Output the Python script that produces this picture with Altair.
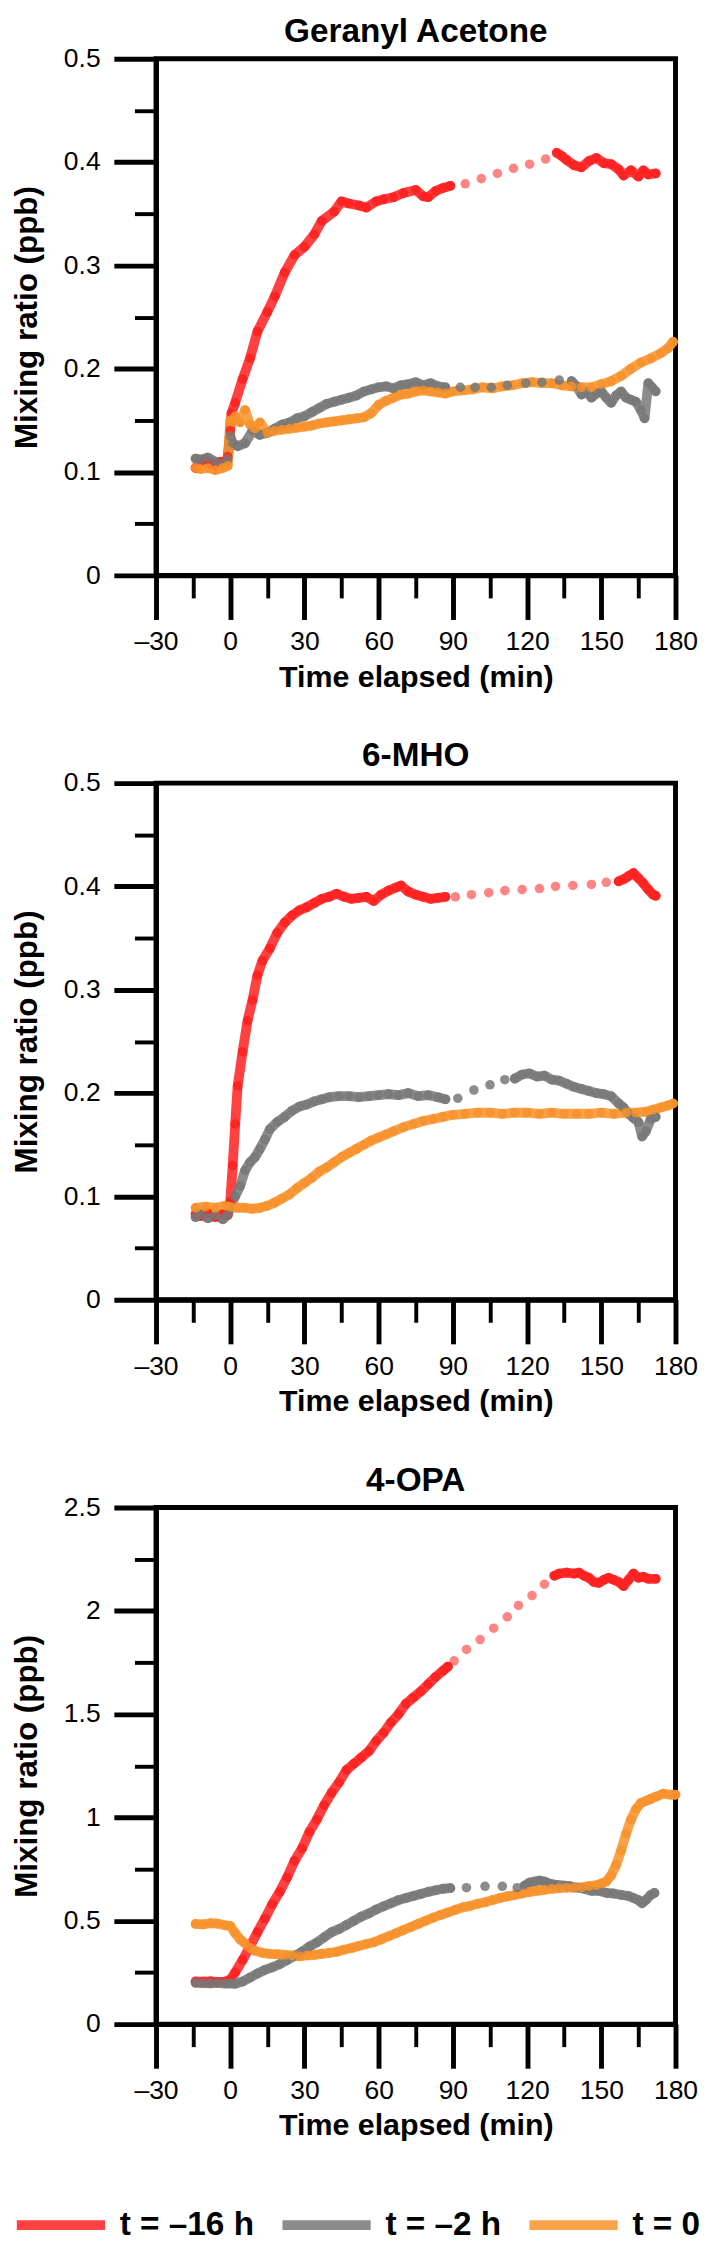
import altair as alt
import pandas as pd

SERIES = ["t = \u201316 h", "t = \u20132 h", "t = 0"]
COLORS = ["#FF2020", "#787878", "#F8922A"]
PANELS = ["Geranyl Acetone", "6-MHO", "4-OPA"]

X_TICKS = [-30, 0, 30, 60, 90, 120, 150, 180]
X_MINOR = [-15, 15, 45, 75, 105, 135, 165]
Y_TICKS_A = [0, 0.1, 0.2, 0.3, 0.4, 0.5]
Y_MINOR_A = [0.05, 0.15, 0.25, 0.35, 0.45]
Y_TICKS_B = [0, 0.5, 1, 1.5, 2, 2.5]
Y_MINOR_B = [0.25, 0.75, 1.25, 1.75, 2.25]

# ---------------- Geranyl Acetone ----------------
GA_RED_T = [-14, -12, -10, -8, -6, -4, -2, -1, 0, 0.5, 2, 5, 8, 11, 15, 18, 22, 26, 30, 34, 37, 42, 45,
            48, 52, 55, 59, 62, 66, 70, 75, 78, 80, 83, 86, 89,
            95, 101.5, 108, 114.5, 121, 127.5,
            132, 134, 136, 139, 142, 145, 148, 151, 154, 157, 159, 162, 165, 167, 169, 172]
GA_RED_V = [0.104, 0.11, 0.112, 0.108, 0.106, 0.11, 0.108, 0.115, 0.14, 0.157, 0.167, 0.19, 0.21, 0.236,
            0.255, 0.27, 0.293, 0.31, 0.318, 0.33, 0.343, 0.352, 0.362,
            0.36, 0.358, 0.356, 0.362, 0.364, 0.366, 0.37, 0.373, 0.367, 0.366, 0.372, 0.375, 0.377,
            0.379, 0.384, 0.389, 0.394, 0.398, 0.403,
            0.409, 0.406, 0.402, 0.397, 0.395, 0.401, 0.404, 0.399, 0.398, 0.393, 0.387, 0.392, 0.386,
            0.392, 0.388, 0.389]
GA_RED_GAP = (92, 130)

GA_GRAY_T = [-14, -12, -9, -6, -3, -1, 0, 1, 3, 6, 9, 12, 15, 18, 21, 24, 27, 30, 33, 36, 39, 42, 45, 48,
             51, 54, 57, 60, 63, 66, 69, 72, 75, 78, 81, 84, 87,
             93, 99, 105.5, 112, 119.5, 126, 133,
             138, 140, 142, 144, 146, 148, 150, 152, 154, 156, 158, 160, 162, 164, 166, 167.5, 169,
             170.5, 172]
GA_GRAY_V = [0.113, 0.112, 0.114, 0.11, 0.108, 0.112, 0.135, 0.128, 0.125, 0.128, 0.14, 0.136, 0.138,
             0.142, 0.146, 0.148, 0.152, 0.154, 0.158, 0.162, 0.166, 0.168, 0.17, 0.172, 0.174, 0.178,
             0.18, 0.182, 0.183, 0.181, 0.184, 0.185, 0.187, 0.184, 0.186, 0.183, 0.182,
             0.182, 0.182, 0.182, 0.184, 0.186, 0.187, 0.189,
             0.188, 0.183, 0.175, 0.178, 0.172, 0.176, 0.178, 0.172, 0.167, 0.174, 0.178, 0.172, 0.17,
             0.168, 0.16, 0.152, 0.186, 0.182, 0.178]
GA_GRAY_GAP = (90, 135)

GA_ORANGE_T = [-14, -12, -9, -6, -3, -1, 0, 2, 4, 6, 8, 10, 12, 15, 18, 21, 24, 27, 30, 33, 36, 39, 42,
               45, 48, 51, 54, 57, 60, 63, 66, 69, 72, 75, 78, 81, 84, 87, 90, 94, 98, 102, 106, 110,
               114, 118, 122, 126, 130, 134, 138, 142, 146, 150, 154, 158, 162, 166, 170, 174, 177, 179]
GA_ORANGE_V = [0.104, 0.103, 0.104, 0.102, 0.104, 0.106, 0.15, 0.154, 0.148, 0.16, 0.146, 0.142, 0.148,
               0.138, 0.14, 0.141, 0.142, 0.143, 0.144, 0.145, 0.147, 0.148, 0.149, 0.15, 0.151, 0.152,
               0.153, 0.157, 0.165, 0.169, 0.172, 0.175, 0.176, 0.178, 0.179, 0.178, 0.177, 0.176,
               0.178, 0.179, 0.18, 0.182, 0.181, 0.183, 0.184, 0.186, 0.187, 0.186, 0.186, 0.184, 0.183,
               0.182, 0.182, 0.185, 0.188, 0.193, 0.2, 0.206, 0.21, 0.215, 0.22, 0.226]
GA_ORANGE_GAP = (999, 999)

# ---------------- 6-MHO ----------------
MHO_RED_T = [-14, -12, -9, -6, -3, -1, 0, 1, 2, 3, 5, 7, 9, 11, 13, 16, 19, 22, 25, 28, 31, 34, 37, 40,
             43, 46, 49, 52, 55, 58, 61, 64, 67, 69, 72, 75, 78, 81, 84, 87,
             91, 97.5, 104.5, 111, 118, 125, 131.5, 138.5, 146, 152,
             157, 159, 161, 163, 165, 167, 169, 171, 172]
MHO_RED_V = [0.083, 0.081, 0.084, 0.08, 0.083, 0.082, 0.095, 0.13, 0.17, 0.207, 0.24, 0.27, 0.29, 0.314,
             0.328, 0.34, 0.355, 0.365, 0.372, 0.377, 0.38, 0.384, 0.388, 0.39, 0.393, 0.39, 0.388,
             0.389, 0.39, 0.386, 0.392, 0.396, 0.399, 0.401, 0.395, 0.392, 0.39, 0.388, 0.389, 0.39,
             0.39, 0.392, 0.394, 0.396, 0.397, 0.398, 0.4, 0.401, 0.402, 0.404,
             0.405, 0.407, 0.41, 0.413, 0.408, 0.403, 0.397, 0.392, 0.391]
MHO_RED_GAP = (89, 154)

MHO_GRAY_T = [-14, -12, -9, -6, -3, -1, 0, 2, 4, 6, 8, 10, 12, 14, 16, 19, 22, 25, 28, 31, 34, 37, 40,
              44, 48, 52, 56, 60, 64, 68, 72, 76, 80, 84, 87,
              92, 98.5, 105, 111,
              115, 118, 121, 124, 127, 130, 133, 136, 139, 142, 145, 148, 151, 154, 157, 159, 161, 163,
              165, 166.5, 168, 170, 172]
MHO_GRAY_V = [0.08, 0.083, 0.079, 0.082, 0.078, 0.082, 0.09, 0.1, 0.11, 0.125, 0.133, 0.138, 0.146,
              0.155, 0.165, 0.172, 0.177, 0.183, 0.187, 0.189, 0.192, 0.194, 0.196, 0.197, 0.197,
              0.196, 0.197, 0.198, 0.199, 0.198, 0.2, 0.197, 0.198, 0.196, 0.194,
              0.195, 0.203, 0.208, 0.213,
              0.214, 0.218, 0.219, 0.216, 0.217, 0.213, 0.212, 0.209, 0.206, 0.204, 0.202, 0.2, 0.199,
              0.197, 0.19, 0.186, 0.18, 0.176, 0.172, 0.158, 0.163, 0.175, 0.177]
MHO_GRAY_GAP = (89, 113)

MHO_ORANGE_T = [-14, -10, -6, -2, 0, 3, 6, 9, 12, 15, 18, 21, 24, 27, 30, 33, 36, 39, 42, 45, 48, 51,
                54, 57, 60, 63, 66, 70, 74, 78, 82, 86, 90, 95, 100, 105, 110, 115, 120, 125, 130, 135,
                140, 145, 150, 155, 160, 164, 168, 171, 174, 177, 179]
MHO_ORANGE_V = [0.089, 0.09, 0.089, 0.091, 0.09, 0.089, 0.089, 0.088, 0.089, 0.091, 0.094, 0.098, 0.102,
                0.108, 0.113, 0.118, 0.124, 0.128, 0.133, 0.138, 0.142, 0.146, 0.15, 0.154, 0.157,
                0.16, 0.163, 0.167, 0.17, 0.173, 0.175, 0.177, 0.179, 0.18, 0.181, 0.181, 0.18, 0.181,
                0.181, 0.18, 0.181, 0.18, 0.18, 0.18, 0.181, 0.18, 0.181, 0.181, 0.182, 0.184, 0.186,
                0.188, 0.19]
MHO_ORANGE_GAP = (999, 999)

# ---------------- 4-OPA ----------------
OPA_RED_T = [-14, -11, -8, -5, -2, 0, 2, 5, 8, 11, 14, 17, 20, 23, 26, 29, 32, 35, 38, 41, 44, 47, 50,
             53, 56, 59, 62, 65, 68, 71, 74, 77, 80, 83, 86, 88,
             90.5, 95.5, 101, 106.5, 112, 116.5, 122, 127,
             131, 133, 136, 139, 141, 143, 145, 147, 149, 151, 153, 155, 157, 159, 161, 163, 165, 167,
             169, 172]
OPA_RED_V = [0.206, 0.205, 0.207, 0.204, 0.206, 0.215, 0.25, 0.31, 0.375, 0.445, 0.51, 0.58, 0.64, 0.71,
             0.79, 0.85, 0.93, 0.99, 1.06, 1.12, 1.17, 1.23, 1.26, 1.29, 1.32, 1.37, 1.41, 1.46, 1.5,
             1.55, 1.58, 1.61, 1.645, 1.68, 1.71, 1.73,
             1.758, 1.813, 1.861, 1.916, 1.971, 2.026, 2.074, 2.129,
             2.17, 2.18, 2.185, 2.18, 2.185, 2.17, 2.16, 2.14, 2.135, 2.15, 2.16, 2.15, 2.14, 2.12,
             2.15, 2.18, 2.16, 2.165, 2.155, 2.155]
OPA_RED_GAP = (89, 129)

OPA_GRAY_T = [-14, -11, -8, -5, -2, 0, 2, 5, 8, 11, 14, 17, 20, 23, 26, 29, 32, 35, 38, 41, 44, 47, 50,
              53, 56, 59, 62, 65, 68, 71, 74, 77, 80, 83, 86, 89,
              95.5, 103, 110, 116,
              119, 121, 123, 125, 127, 129, 131, 133, 135, 137, 139, 141, 143, 146, 149, 152, 155, 158,
              161, 163, 165, 166.5, 168, 170, 171.5]
OPA_GRAY_V = [0.2, 0.198, 0.197, 0.199, 0.196, 0.197, 0.195, 0.206, 0.225, 0.245, 0.262, 0.275, 0.29,
              0.31, 0.33, 0.35, 0.375, 0.395, 0.42, 0.445, 0.46, 0.48, 0.5, 0.52, 0.535, 0.555, 0.57,
              0.585, 0.6, 0.61, 0.62, 0.63, 0.64, 0.648, 0.655, 0.658,
              0.66, 0.667, 0.667, 0.66,
              0.67, 0.685, 0.69, 0.695, 0.69, 0.68, 0.675, 0.672, 0.67, 0.668, 0.662, 0.66, 0.655,
              0.645, 0.645, 0.635, 0.632, 0.625, 0.62, 0.61, 0.6, 0.585, 0.6, 0.625, 0.635]
OPA_GRAY_GAP = (92, 117)

OPA_ORANGE_T = [-14, -11, -8, -5, -2, 0, 2, 4, 6, 8, 10, 13, 16, 19, 22, 25, 28, 31, 34, 37, 40, 43, 46,
                49, 52, 55, 58, 61, 64, 67, 70, 73, 76, 79, 82, 85, 88, 91, 94, 97, 100, 103, 106, 109,
                112, 115, 118, 121, 124, 127, 130, 133, 136, 139, 142, 145, 148, 150, 152, 154, 156,
                158, 160, 162, 164, 166, 168, 170, 172, 175, 178, 180]
OPA_ORANGE_V = [0.485, 0.483, 0.488, 0.486, 0.478, 0.475, 0.44, 0.41, 0.39, 0.37, 0.355, 0.345, 0.34,
                0.338, 0.335, 0.332, 0.328, 0.332, 0.335, 0.34, 0.345, 0.35, 0.36, 0.368, 0.378, 0.388,
                0.396, 0.41, 0.425, 0.44, 0.455, 0.47, 0.485, 0.5, 0.515, 0.528, 0.54, 0.553, 0.565,
                0.572, 0.582, 0.59, 0.6, 0.61, 0.618, 0.625, 0.632, 0.64, 0.645, 0.65, 0.655, 0.658,
                0.66, 0.66, 0.662, 0.668, 0.672, 0.68, 0.69, 0.72, 0.77, 0.84, 0.92, 0.99, 1.04, 1.07,
                1.08, 1.09, 1.1, 1.115, 1.11, 1.11]
OPA_ORANGE_GAP = (999, 999)

PANEL_DATA = [
    [(GA_RED_T, GA_RED_V, GA_RED_GAP), (GA_GRAY_T, GA_GRAY_V, GA_GRAY_GAP),
     (GA_ORANGE_T, GA_ORANGE_V, GA_ORANGE_GAP)],
    [(MHO_RED_T, MHO_RED_V, MHO_RED_GAP), (MHO_GRAY_T, MHO_GRAY_V, MHO_GRAY_GAP),
     (MHO_ORANGE_T, MHO_ORANGE_V, MHO_ORANGE_GAP)],
    [(OPA_RED_T, OPA_RED_V, OPA_RED_GAP), (OPA_GRAY_T, OPA_GRAY_V, OPA_GRAY_GAP),
     (OPA_ORANGE_T, OPA_ORANGE_V, OPA_ORANGE_GAP)],
]
PANEL_Y = [(Y_TICKS_A, Y_MINOR_A, 0.5), (Y_TICKS_A, Y_MINOR_A, 0.5), (Y_TICKS_B, Y_MINOR_B, 2.5)]

FONT = "Liberation Sans"


def build_frame(series_list):
    rows = []
    for name, (ts, vs, gap) in zip(SERIES, series_list):
        for t, v in zip(ts, vs):
            if t < gap[0]:
                seg = 1
            elif t <= gap[1]:
                seg = 0
            else:
                seg = 2
            rows.append({"series": name, "t": t, "v": v, "seg": seg})
    return pd.DataFrame(rows)


color = alt.Color(
    "series:N",
    scale=alt.Scale(domain=SERIES, range=COLORS),
    legend=alt.Legend(
        title=None, orient="none", legendX=-147, legendY=2160, direction="horizontal",
        symbolType="stroke", symbolStrokeWidth=10, symbolSize=8100, symbolOpacity=0.85,
        labelFontSize=34, labelFont=FONT, labelFontWeight="bold", labelColor="black",
        labelOffset=10, columnPadding=8, gridAlign="each", padding=0,
    ),
)

xscale = alt.Scale(domain=[-30, 180], nice=False, zero=False)


def panel(title, df, yticks, yminor, ymax):
    yscale = alt.Scale(domain=[0, ymax], nice=False)
    base = alt.Chart(df)
    x_major = alt.X(
        "t:Q", scale=xscale,
        axis=alt.Axis(
            values=X_TICKS, orient="bottom", tickSize=45, tickWidth=5, labelFontSize=27,
            labelPadding=10, labelFlush=False, labelOverlap=False,
            labelExpr="datum.value < 0 ? '\u2013' + abs(datum.value) : datum.label",
            title="Time elapsed (min)", titleFontSize=31, titleFontWeight="bold", titlePadding=8,
            domainWidth=5,
        ),
    )
    y_major = alt.Y(
        "v:Q", scale=yscale,
        axis=alt.Axis(
            values=yticks, orient="left", format="~g", tickSize=43, tickWidth=5, labelFontSize=27,
            labelPadding=14, labelFlush=False, labelOverlap=False,
            title="Mixing ratio (ppb)", titleFontSize=32, titleFontWeight="bold", titlePadding=20,
            domainWidth=5,
        ),
    )
    x_minor = alt.X(
        "t:Q", scale=xscale,
        axis=alt.Axis(values=X_MINOR, orient="bottom", tickSize=23, tickWidth=4, labels=False,
                      domain=False, title=None),
    )
    y_minor = alt.Y(
        "v:Q", scale=yscale,
        axis=alt.Axis(values=yminor, orient="left", tickSize=22, tickWidth=4, labels=False,
                      domain=False, title=None),
    )
    measured = base.transform_filter("datum.seg != 0")
    line = measured.mark_line(
        strokeWidth=10, strokeCap="round", strokeJoin="round", opacity=0.85
    ).encode(x=x_major, y=y_major, color=color, detail="seg:N")
    dots = measured.mark_circle(size=95, opacity=0.85).encode(
        x=alt.X("t:Q", scale=xscale, axis=None),
        y=alt.Y("v:Q", scale=yscale, axis=None),
        color=color,
    )
    gap = base.transform_filter("datum.seg == 0").mark_circle(size=95).encode(
        x=x_minor, y=y_minor, color=color,
        opacity=alt.condition(f"datum.series == '{SERIES[1]}'", alt.value(0.85), alt.value(0.55)),
    )
    return alt.layer(line, dots, gap).resolve_axis(x="independent", y="independent").properties(
        width=530, height=527,
        title=alt.TitleParams(text=title, fontSize=34, fontWeight="bold", font=FONT, color="black",
                              frame="group", anchor="middle", offset=-4),
    )


charts = []
for title, series_list, (yt, ym, ymax) in zip(PANELS, PANEL_DATA, PANEL_Y):
    charts.append(panel(title, build_frame(series_list), yt, ym, ymax))

chart = alt.vconcat(*charts, spacing=43).properties(
    padding={"left": 0, "top": -18, "right": 0, "bottom": 0}
).configure_view(
    stroke="black", strokeWidth=5
).configure_axis(
    grid=False, labelFont=FONT, titleFont=FONT, labelColor="black", titleColor="black",
    tickColor="black", domainColor="black",
)

chart.save("out.html", embed_options={"renderer": "svg", "actions": False})
